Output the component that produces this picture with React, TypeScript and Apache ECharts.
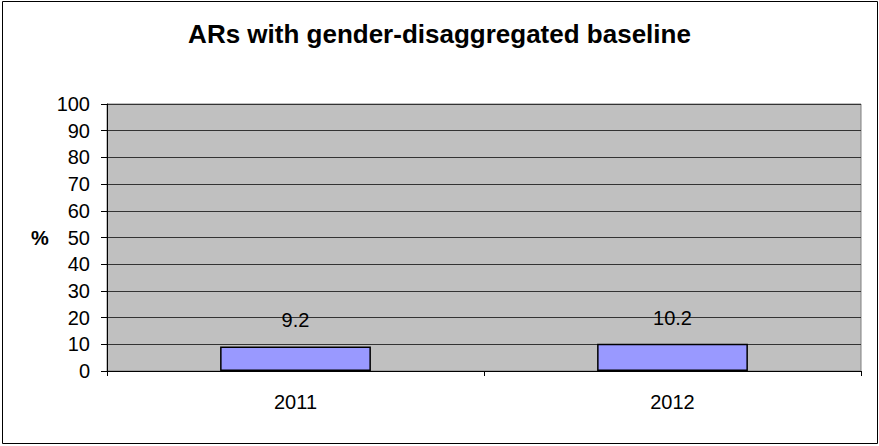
import React, { useEffect, useRef } from "react";
import * as echarts from "echarts";

const title = "ARs with gender-disaggregated baseline";
const categories = ["2011", "2012"];
const values = [9.2, 10.2];
const yAxisName = "%";

export default function App() {
  const ref = useRef<HTMLDivElement>(null);
  useEffect(() => {
    if (!ref.current) return;
    const chart = echarts.init(ref.current, null, { renderer: "svg" });
    const font = "'Liberation Sans', Arial, sans-serif";
    chart.setOption({
      animation: false,
      backgroundColor: "#ffffff",
      title: {
        text: title,
        left: "center",
        top: 16,
        textStyle: { fontFamily: font, fontSize: 26, fontWeight: "bold", color: "#000" },
      },
      graphic: [
        {
          type: "rect",
          shape: { x: 2.5, y: 1.5, width: 875, height: 442 },
          style: { fill: "none", stroke: "#000", lineWidth: 1 },
          z: 100,
        },
        {
          type: "text",
          x: 40,
          y: 238,
          style: {
            text: yAxisName,
            font: `bold 20px ${font}`,
            fill: "#000",
            textAlign: "center",
            textVerticalAlign: "middle",
          },
        },
      ],
      grid: {
        left: 107,
        top: 104,
        width: 754,
        height: 267,
        show: true,
        backgroundColor: "#C0C0C0",
        borderColor: "#808080",
        borderWidth: 1,
      },
      xAxis: {
        type: "category",
        data: categories,
        axisLine: { show: true, lineStyle: { color: "#000", width: 1 } },
        axisTick: { show: true, alignWithLabel: false, length: 5, lineStyle: { color: "#000" } },
        axisLabel: { margin: 21, fontFamily: font, fontSize: 20, color: "#000" },
        splitLine: { show: false },
      },
      yAxis: {
        type: "value",
        min: 0,
        max: 100,
        interval: 10,
        axisLine: { show: true, lineStyle: { color: "#000", width: 1 } },
        axisTick: { show: true, length: 6, lineStyle: { color: "#000" } },
        axisLabel: { margin: 17, fontFamily: font, fontSize: 20, color: "#000" },
        splitLine: { show: true, lineStyle: { color: "#333333", width: 1 } },
      },
      series: [
        {
          type: "bar",
          data: values,
          barWidth: "40%",
          itemStyle: { color: "#9999FF", borderColor: "#000", borderWidth: 1.5 },
          label: {
            show: true,
            position: "top",
            distance: 16,
            fontFamily: font,
            fontSize: 20,
            color: "#000",
          },
        },
      ],
    });
    return () => chart.dispose();
  }, []);
  return (
    <div
      ref={ref}
      style={{ position: "fixed", left: 0, top: 0, width: 879, height: 446 }}
    />
  );
}
